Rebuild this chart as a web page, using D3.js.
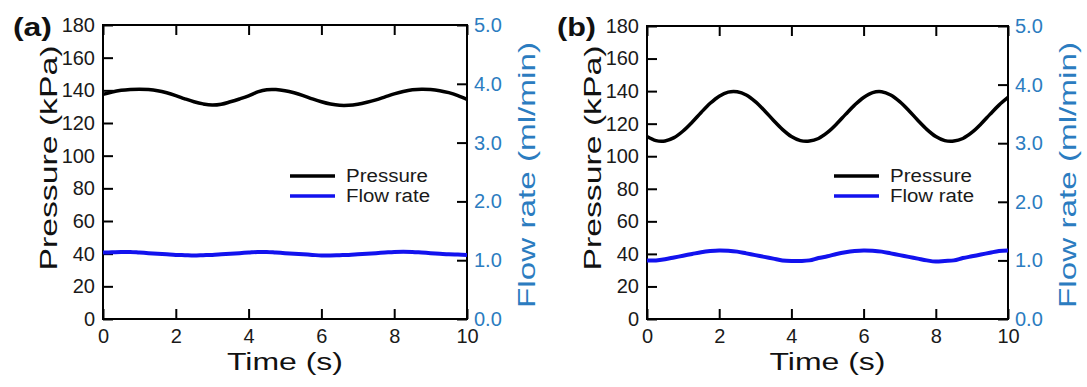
<!DOCTYPE html>
<html>
<head>
<meta charset="utf-8">
<script src="https://cdn.jsdelivr.net/npm/d3@7"></script>
<style>
  html, body { margin: 0; padding: 0; background: #fff; }
  svg { display: block; font-family: "Liberation Sans", Arial, sans-serif; }
</style>
</head>
<body>
<svg id="chart" width="1087" height="387"></svg>
<script>
// sample times (s)
const time = [0, 0.25, 0.5, 0.75, 1, 1.25, 1.5, 1.75, 2, 2.25, 2.5, 2.75, 3, 3.25, 3.5, 3.75,
  4, 4.25, 4.5, 4.75, 5, 5.25, 5.5, 5.75, 6, 6.25, 6.5, 6.75, 7, 7.25, 7.5, 7.75,
  8, 8.25, 8.5, 8.75, 9, 9.25, 9.5, 9.75, 10];

// panel (a)
const pressureA = [137.5, 139, 140, 140.5, 140.7, 140.5, 139.8, 138.5, 136.8, 134.8, 133, 131.7, 131, 131.5, 133, 134.7,
  136.6, 139, 140.4, 140.5, 139.8, 138.5, 136.8, 134.8, 133, 131.6, 130.8, 130.8, 131.5, 132.7, 134.2, 136,
  137.8, 139.3, 140.3, 140.7, 140.5, 139.8, 138.6, 136.8, 134.5];
const flowA = [1.13, 1.135, 1.14, 1.14, 1.13, 1.12, 1.11, 1.10, 1.09, 1.085, 1.08, 1.085, 1.09, 1.10, 1.11, 1.12,
  1.13, 1.14, 1.14, 1.13, 1.12, 1.11, 1.10, 1.09, 1.08, 1.08, 1.085, 1.09, 1.10, 1.11, 1.12, 1.13,
  1.14, 1.145, 1.14, 1.13, 1.12, 1.11, 1.10, 1.095, 1.09];

// panel (b)
const pressureB = [112.1, 109.6, 109.4, 111.4, 115.5, 120.9, 126.9, 132.5, 136.9, 139.4, 139.6, 137.6, 133.5, 128.1, 122.1, 116.5,
  112.1, 109.6, 109.3, 110.9, 114.6, 119.8, 125.7, 131.4, 136.1, 139.1, 139.6, 137.6, 133.5, 128.1, 122.1, 116.5,
  112.1, 109.6, 109.3, 110.9, 114.6, 119.8, 125.7, 131.4, 136.1];
const flowB = [1.00, 1.00, 1.02, 1.05, 1.08, 1.11, 1.14, 1.16, 1.17, 1.165, 1.15, 1.12, 1.09, 1.06, 1.03, 1.00,
  0.99, 0.99, 1.00, 1.04, 1.07, 1.11, 1.14, 1.16, 1.17, 1.165, 1.15, 1.12, 1.09, 1.06, 1.03, 1.00,
  0.98, 0.99, 1.00, 1.04, 1.07, 1.10, 1.13, 1.16, 1.17];

const timeTicks = [0, 2, 4, 6, 8, 10];
const pressureTicks = [0, 20, 40, 60, 80, 100, 120, 140, 160, 180];
const flowTicks = [0, 1, 2, 3, 4, 5];
const seriesNames = ['Pressure', 'Flow rate'];

const BLUE_TXT = '#2b7cc0';
const BLUE_LINE = '#1212ee';

const svg = d3.select('#chart');

const panels = [
  { label: '(a)', left: 103, right: 467, top: 25, bottom: 319, pressure: pressureA, flow: flowA },
  { label: '(b)', left: 647, right: 1008, top: 26, bottom: 319, pressure: pressureB, flow: flowB }
];

panels.forEach(p => {
  const x = d3.scaleLinear().domain([0, 10]).range([p.left, p.right]);
  const y = d3.scaleLinear().domain([0, 180]).range([p.bottom, p.top]);
  const y2 = d3.scaleLinear().domain([0, 5]).range([p.bottom, p.top]);

  const g = svg.append('g');

  // axes with inward ticks
  const left = g.append('g')
    .attr('transform', `translate(${p.left},0)`)
    .call(d3.axisLeft(y).tickValues(pressureTicks).tickSizeInner(-10).tickSizeOuter(0).tickPadding(8));
  const right = g.append('g')
    .attr('transform', `translate(${p.right},0)`)
    .call(d3.axisRight(y2).tickValues(flowTicks).tickFormat(d3.format('.1f'))
      .tickSizeInner(-10).tickSizeOuter(0).tickPadding(7));
  const bottom = g.append('g')
    .attr('transform', `translate(0,${p.bottom})`)
    .call(d3.axisBottom(x).tickValues(timeTicks).tickSizeInner(-10).tickSizeOuter(0).tickPadding(10));
  const top = g.append('g')
    .attr('transform', `translate(0,${p.top})`)
    .call(d3.axisTop(x).tickValues(timeTicks).tickFormat('').tickSizeInner(-10).tickSizeOuter(0));

  [left, right, bottom, top].forEach(a => {
    a.select('.domain').remove();
    a.selectAll('.tick line').attr('stroke', '#000').attr('stroke-width', 2);
    a.selectAll('.tick text')
      .style('font-family', '"Liberation Sans", Arial, sans-serif')
      .style('font-size', '20px')
      .attr('fill', '#1a1a1a');
  });
  right.selectAll('.tick text').attr('fill', BLUE_TXT);

  // frame
  g.append('rect')
    .attr('x', p.left).attr('y', p.top)
    .attr('width', p.right - p.left).attr('height', p.bottom - p.top)
    .attr('fill', 'none').attr('stroke', '#000').attr('stroke-width', 2);

  // data lines
  const pLine = d3.line().x((d, i) => x(time[i])).y(d => y(d)).curve(d3.curveCatmullRom);
  const fLine = d3.line().x((d, i) => x(time[i])).y(d => y2(d)).curve(d3.curveCatmullRom);

  g.append('path').datum(p.flow)
    .attr('d', fLine).attr('fill', 'none')
    .attr('stroke', BLUE_LINE).attr('stroke-width', 4);
  g.append('path').datum(p.pressure)
    .attr('d', pLine).attr('fill', 'none')
    .attr('stroke', '#000').attr('stroke-width', 3.5);

  // legend
  const leg = g.append('g').attr('transform', `translate(${p.left + 187},176)`);
  seriesNames.forEach((name, i) => {
    leg.append('line')
      .attr('x1', 0).attr('x2', 45).attr('y1', i * 20).attr('y2', i * 20)
      .attr('stroke', i === 0 ? '#000' : BLUE_LINE).attr('stroke-width', 3.5);
    leg.append('text')
      .attr('x', 56).attr('y', i * 20 + 6)
      .style('font-size', '18px').attr('fill', '#1a1a1a')
      .attr('textLength', i === 0 ? 82 : 84).attr('lengthAdjust', 'spacingAndGlyphs')
      .text(name);
  });

  // axis titles
  g.append('text')
    .attr('x', (p.left + p.right) / 2).attr('y', 370)
    .attr('text-anchor', 'middle')
    .style('font-size', '23px').attr('fill', '#111')
    .attr('textLength', 116).attr('lengthAdjust', 'spacingAndGlyphs')
    .text('Time (s)');

  g.append('text')
    .attr('transform', `translate(${p.left - 46},158) rotate(-90)`)
    .attr('text-anchor', 'middle')
    .style('font-size', '24px').attr('fill', '#111')
    .attr('textLength', 225).attr('lengthAdjust', 'spacingAndGlyphs')
    .text('Pressure (kPa)');

  g.append('text')
    .attr('transform', `translate(${p.right + 68},175) rotate(-90)`)
    .attr('text-anchor', 'middle')
    .style('font-size', '24px').attr('fill', BLUE_TXT)
    .attr('textLength', 266).attr('lengthAdjust', 'spacingAndGlyphs')
    .text('Flow rate (ml/min)');

  // panel label
  g.append('text')
    .attr('x', p.left - 90).attr('y', 36)
    .style('font-size', '26px').style('font-weight', 'bold').attr('fill', '#111')
    .attr('textLength', 39).attr('lengthAdjust', 'spacingAndGlyphs')
    .text(p.label);
});
</script>
</body>
</html>
